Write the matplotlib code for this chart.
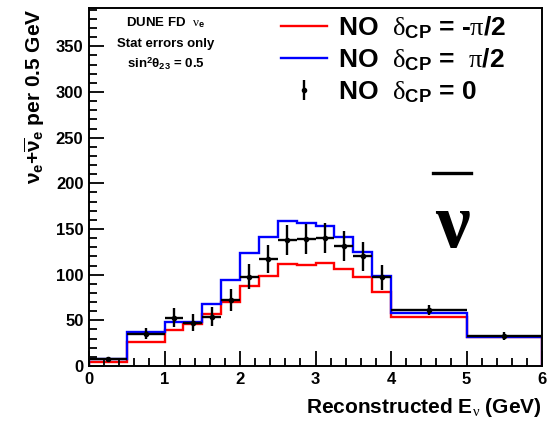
import matplotlib
matplotlib.use('Agg')
import matplotlib.pyplot as plt
import numpy as np
from matplotlib.lines import Line2D

plt.rcParams['mathtext.fontset'] = 'custom'
plt.rcParams['mathtext.rm'] = 'Liberation Sans:bold'
plt.rcParams['mathtext.bf'] = 'Liberation Sans:bold'
plt.rcParams['mathtext.it'] = 'Liberation Serif:weight=normal'
plt.rcParams['mathtext.cal'] = 'Liberation Serif:weight=normal'
plt.rcParams['mathtext.sf'] = 'Liberation Sans:bold'
plt.rcParams['font.family'] = ['Liberation Sans', 'DejaVu Sans']

# Bin edges (GeV)
edges = [0, 0.5, 1, 1.25, 1.5, 1.75, 2, 2.25, 2.5, 2.75, 3, 3.25, 3.5, 3.75, 4, 5, 6]
# NO dCP = -pi/2 (red)
red_vals = [4.5, 26.5, 39, 45.5, 56.5, 70.5, 88, 99, 112, 111, 112.5, 106.5, 98, 80.5, 54, 32]
# NO dCP = pi/2 (blue)
blue_vals = [7.5, 37, 48, 48, 67.5, 94, 124, 141, 159, 157, 153, 141, 125, 98.5, 58.5, 32]
# NO dCP = 0 (data points)
data_vals = [7.5, 35.5, 53, 47.5, 54, 72, 98, 117, 138, 139, 140, 131.5, 120, 97, 61, 33]
data_errs = [2.7, 6.0, 10.3, 9.7, 10.4, 12.0, 14.0, 15.3, 16.6, 16.7, 16.7, 16.2, 15.5, 13.9, 5.5, 4.0]

legend_labels = [r'NO  $\mathcal{\delta}_{\mathbf{CP}}$ = -$\mathcal{\pi}$/2',
                 r'NO  $\mathcal{\delta}_{\mathbf{CP}}$ =  $\mathcal{\pi}$/2',
                 r'NO  $\mathcal{\delta}_{\mathbf{CP}}$ = 0']

W, H = 547, 423
fig = plt.figure(figsize=(W / 100, H / 100), dpi=100)
ax = fig.add_axes([89 / W, (H - 366) / H, (542 - 89) / W, (366 - 8) / H])

e = np.array(edges)
centers = 0.5 * (e[:-1] + e[1:])
halfw = 0.5 * (e[1:] - e[:-1])

ax.stairs(red_vals, edges, color='#ff0000', lw=1.7, baseline=0)
ax.stairs(blue_vals, edges, color='#0000ff', lw=1.7, baseline=0)
ax.errorbar(centers, data_vals, yerr=data_errs, xerr=halfw, fmt='o', ms=3,
            color='black', ecolor='black', elinewidth=1.7, capsize=0)

ax.set_xlim(0, 6)
ax.set_ylim(0, 392)
ax.set_xticks(np.arange(0, 7, 1))
ax.set_xticks(np.arange(0, 6.01, 0.2), minor=True)
ax.set_yticks(np.arange(0, 351, 50))
ax.set_yticks(np.arange(0, 391, 10), minor=True)
ax.tick_params(which='both', direction='in', top=False, right=False,
               labelsize=12, width=1.3)
ax.tick_params(which='major', length=11, pad=4)
ax.tick_params(which='minor', length=6)
for lab in ax.get_xticklabels() + ax.get_yticklabels():
    lab.set_fontweight('bold')
for s in ax.spines.values():
    s.set_linewidth(1.4)

ax.set_xlabel(r'Reconstructed E$_{\nu}$ (GeV)', fontsize=15, fontweight='bold',
              loc='right', labelpad=7)
ax.set_ylabel(r'$\mathbf{\nu}_{\mathbf{e}}$+$\overline{\mathbf{\nu}}_{\mathbf{e}}$ per 0.5 GeV',
              fontsize=15, fontweight='bold', loc='top', labelpad=6)

# info box text
ax.text(0.17, 0.96, r'DUNE FD  $\nu_{\mathbf{e}}$', transform=ax.transAxes,
        ha='center', va='center', fontsize=9.5, fontweight='bold')
ax.text(0.17, 0.90, 'Stat errors only', transform=ax.transAxes,
        ha='center', va='center', fontsize=9.5, fontweight='bold')
ax.text(0.17, 0.845, r'sin$^{\mathbf{2}}\mathbf{\theta}_{\mathbf{23}}$ = 0.5', transform=ax.transAxes,
        ha='center', va='center', fontsize=9.5, fontweight='bold')

# legend
h_red = Line2D([], [], color='#ff0000', lw=1.7)
h_blue = Line2D([], [], color='#0000ff', lw=1.7)
h_data = (Line2D([], [], marker='|', ms=14, mew=1.7, color='black', ls=''),
          Line2D([], [], marker='o', ms=3, color='black', ls=''))
leg = ax.legend([h_red, h_blue, h_data], legend_labels, loc='upper left',
                bbox_to_anchor=(276 / W, (H - 9) / H), bbox_transform=fig.transFigure,
                frameon=False, prop={'size': 19, 'weight': 'bold'},
                handlelength=1.75, handletextpad=0.4, labelspacing=0.22,
                borderaxespad=0, borderpad=0.2)

# big anti-neutrino symbol
fig.text(452 / W, (H - 228) / H, '\u03bd', fontsize=56, fontweight='bold',
         family='Liberation Serif', ha='center', va='center')
fig.add_artist(Line2D([433 / W, 471 / W], [(H - 173) / H, (H - 173) / H],
                      color='black', lw=2.4, transform=fig.transFigure))

fig.savefig('out.png', dpi=100)
